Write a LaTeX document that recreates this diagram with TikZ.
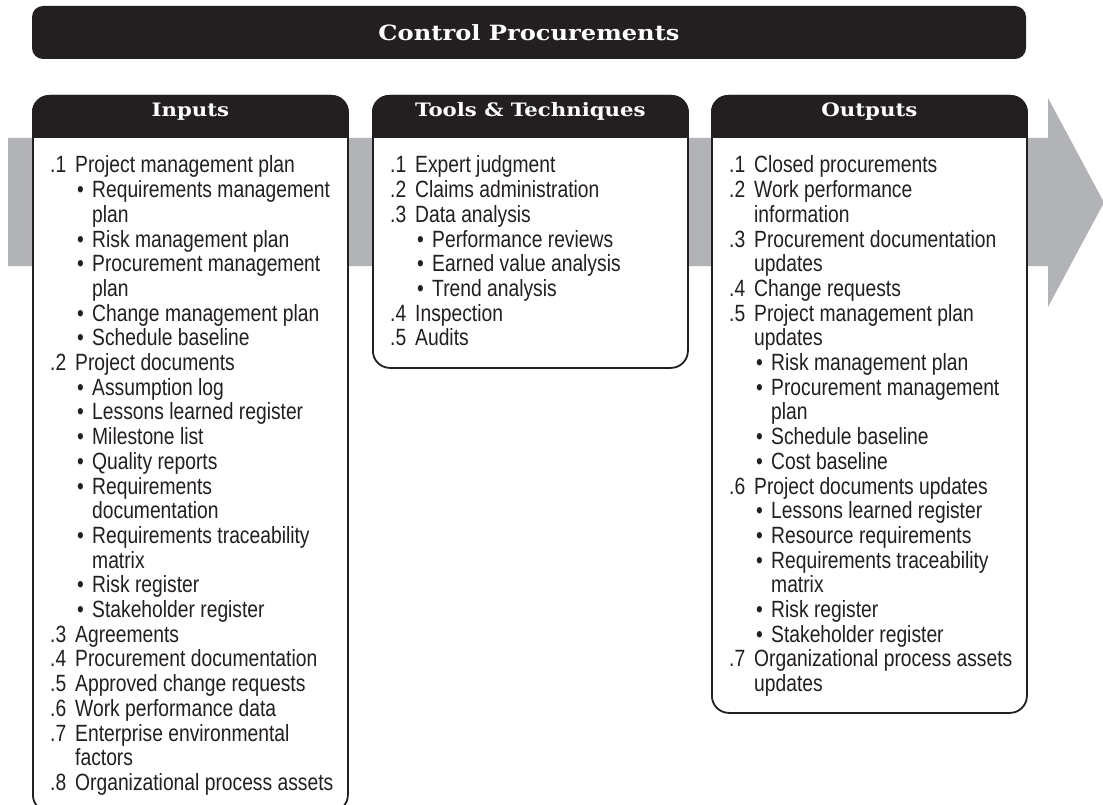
\documentclass[tikz,border=0pt]{standalone}
\usepackage{fontspec}
\setmainfont[FakeStretch=0.82]{Liberation Sans}
\newfontfamily\headfont[FakeStretch=1.15]{DejaVu Serif Bold}
\usepackage{xcolor}

\definecolor{ink}{HTML}{231F20}
\definecolor{flowgray}{HTML}{B1B3B6}

\newcommand{\pitem}[2]{\par\hangindent=25pt\hangafter=1\noindent\makebox[25pt][l]{#1}#2}
\newcommand{\bitem}[1]{\par\hangindent=42pt\hangafter=1\noindent\hspace*{27pt}\makebox[15pt][l]{\textbullet}#1}
\newcommand{\listbody}[1]{\parbox[t]{295pt}{\fontsize{23.5}{24.7}\selectfont\raggedright #1}}

\begin{document}
\begin{tikzpicture}[x=1pt,y=-1pt,
  panel/.style={draw=ink,line width=1.8pt,fill=white,rounded corners=17pt,anchor=north west,minimum width=315pt,inner sep=0pt},
  head/.style={text=white,font=\headfont\fontsize{18.5}{20}\selectfont,anchor=base},
  items/.style={anchor=base west,inner sep=0pt,text=ink}]
  \useasboundingbox (0,0) rectangle (1103,805);
  \clip (0,0) rectangle (1103,805);
  \fill[flowgray] (8,138) -- (1048,138) -- (1048,98) -- (1104,202.5) -- (1048,307) -- (1048,266) -- (8,266) -- cycle;
  \node[fill=ink,rounded corners=11pt,minimum width=994pt,minimum height=53pt,inner sep=0pt,
        text=white,font=\headfont\fontsize{21}{22}\selectfont] (title) at (529,32.5) {Control Procurements};
  \node[panel,minimum height=716pt] (inputs) at (32,95) {};
  \node[panel,minimum height=272pt] (tools) at (372,95) {};
  \node[panel,minimum height=617pt] (outputs) at (711,95) {};
  \foreach \p in {inputs,tools,outputs}
    \fill[ink] ([yshift=-43pt]\p.north west) [rounded corners=17pt] -- (\p.north west) -- (\p.north east)
      [sharp corners] -- ([yshift=-43pt]\p.north east) -- cycle;
  \node[head] (inputsHead) at ([yshift=-22pt]inputs.north) {Inputs};
  \node[head] (toolsHead) at ([yshift=-22pt]tools.north) {Tools \& Techniques};
  \node[head] (outputsHead) at ([yshift=-22pt]outputs.north) {Outputs};
  \node[items] (inputsList) at ([xshift=18pt,yshift=-78pt]inputs.north west) {\listbody{%
    \pitem{.1}{Project management plan}
    \bitem{Requirements management\newline plan}
    \bitem{Risk management plan}
    \bitem{Procurement management\newline plan}
    \bitem{Change management plan}
    \bitem{Schedule baseline}
    \pitem{.2}{Project documents}
    \bitem{Assumption log}
    \bitem{Lessons learned register}
    \bitem{Milestone list}
    \bitem{Quality reports}
    \bitem{Requirements\newline documentation}
    \bitem{Requirements traceability\newline matrix}
    \bitem{Risk register}
    \bitem{Stakeholder register}
    \pitem{.3}{Agreements}
    \pitem{.4}{Procurement documentation}
    \pitem{.5}{Approved change requests}
    \pitem{.6}{Work performance data}
    \pitem{.7}{Enterprise environmental\newline factors}
    \pitem{.8}{Organizational process assets}}};
  \node[items] (toolsList) at ([xshift=18pt,yshift=-78pt]tools.north west) {\listbody{%
    \pitem{.1}{Expert judgment}
    \pitem{.2}{Claims administration}
    \pitem{.3}{Data analysis}
    \bitem{Performance reviews}
    \bitem{Earned value analysis}
    \bitem{Trend analysis}
    \pitem{.4}{Inspection}
    \pitem{.5}{Audits}}};
  \node[items] (outputsList) at ([xshift=18pt,yshift=-78pt]outputs.north west) {\listbody{%
    \pitem{.1}{Closed procurements}
    \pitem{.2}{Work performance\newline information}
    \pitem{.3}{Procurement documentation\newline updates}
    \pitem{.4}{Change requests}
    \pitem{.5}{Project management plan\newline updates}
    \bitem{Risk management plan}
    \bitem{Procurement management\newline plan}
    \bitem{Schedule baseline}
    \bitem{Cost baseline}
    \pitem{.6}{Project documents updates}
    \bitem{Lessons learned register}
    \bitem{Resource requirements}
    \bitem{Requirements traceability\newline matrix}
    \bitem{Risk register}
    \bitem{Stakeholder register}
    \pitem{.7}{Organizational process assets\newline updates}}};
\end{tikzpicture}
\end{document}
